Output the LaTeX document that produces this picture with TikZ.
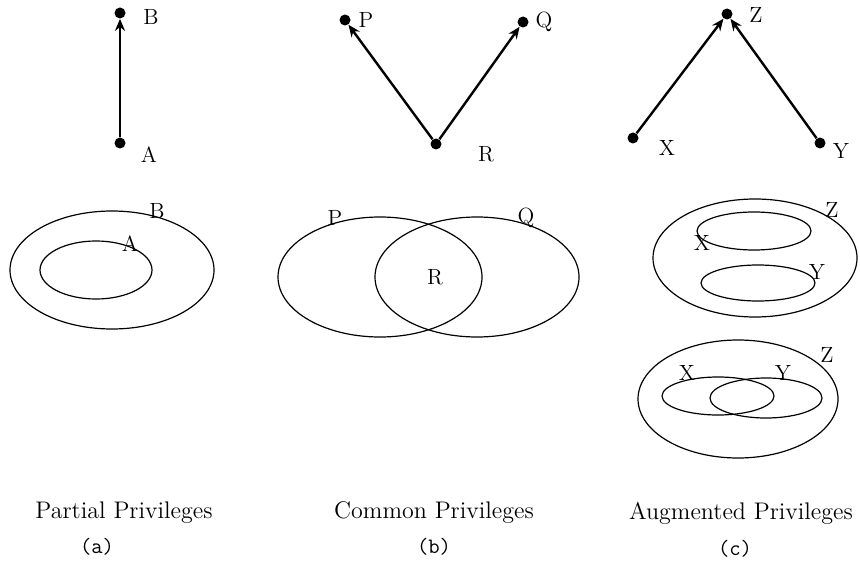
\documentclass[tikz,border=0pt]{standalone}
\usepackage{tikz}
\usetikzlibrary{arrows.meta}

\tikzset{
  dot/.style={circle,fill=black,inner sep=0pt,minimum size=5.5pt},
  lbl/.style={font=\fontsize{11}{13}\selectfont},
  caption/.style={font=\fontsize{12}{14}\selectfont},
  tag/.style={font=\ttfamily\fontsize{11}{13}\selectfont},
  edge/.style={line width=1.2pt,-{Stealth[length=6pt,width=5pt]}},
  venn/.style={line width=0.6pt},
}

\begin{document}
\begin{tikzpicture}[x=0.5pt,y=-0.5pt]
\useasboundingbox (0,0) rectangle (860,561);
% (a) partial
\node[dot] (A) at (120,143) {};
\node[dot] (B) at (120,13) {};
\node[lbl] (labA) at (149,155) {A};
\node[lbl] (labB) at (151,17) {B};
\draw[edge] (A) -- (B);
\draw[venn] (112,270) ellipse (102 and 59);
\draw[venn] (96,270) ellipse (56 and 29);
\node[lbl] (setB) at (157,211) {B};
\node[lbl] (setA) at (130,244) {A};
% (b) common
\node[dot] (R) at (436,144) {};
\node[dot] (P) at (345,20) {};
\node[dot] (Q) at (523,22) {};
\node[lbl] (labR) at (486,154) {R};
\node[lbl] (labP) at (366,20) {P};
\node[lbl] (labQ) at (544,22) {Q};
\draw[edge] (R) -- (P);
\draw[edge] (R) -- (Q);
\draw[venn] (380,277) ellipse (102 and 60);
\draw[venn] (477,277) ellipse (102 and 60);
\node[lbl] (setP) at (335,218) {P};
\node[lbl] (setQ) at (526,218) {Q};
\node[lbl] (setR) at (435,277) {R};
% (c) augmented
\node[dot] (X) at (633,138) {};
\node[dot] (Y) at (820,143) {};
\node[dot] (Z) at (727,14) {};
\node[lbl] (labX) at (667,148) {X};
\node[lbl] (labY) at (841,151) {Y};
\node[lbl] (labZ) at (756,15) {Z};
\draw[edge] (X) -- (Z);
\draw[edge] (Y) -- (Z);
\draw[venn] (755,258) ellipse (102 and 59);
\draw[venn] (754,231) ellipse (57 and 19);
\draw[venn] (758,283) ellipse (57 and 18);
\node[lbl] (setZ1) at (832,210) {Z};
\node[lbl] (setX1) at (702,243) {X};
\node[lbl] (setY1) at (817,272) {Y};
\draw[venn] (738,399) ellipse (100 and 59);
\draw[venn] (718,396) ellipse (56 and 19);
\draw[venn] (766,398) ellipse (56 and 20);
\node[lbl] (setZ2) at (827,355) {Z};
\node[lbl] (setX2) at (687,373) {X};
\node[lbl] (setY2) at (783,373) {Y};
% captions
\node[caption] (capA) at (124,513) {Partial Privileges};
\node[tag] (tagA) at (97,547) {(a)};
\node[caption] (capB) at (434,513) {Common Privileges};
\node[tag] (tagB) at (434,547) {(b)};
\node[caption] (capC) at (741,513) {Augmented Privileges};
\node[tag] (tagC) at (735,549) {(c)};
\end{tikzpicture}
\end{document}
